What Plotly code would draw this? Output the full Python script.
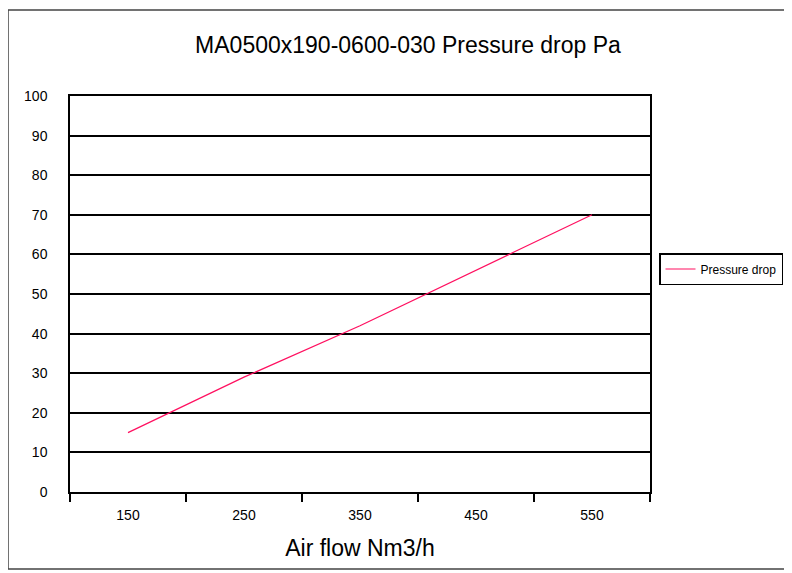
import plotly.graph_objects as go

air_flow = ["150", "250", "350", "450", "550"]
pressure_drop = [15, 29, 42, 56, 70]
y_ticks = [0, 10, 20, 30, 40, 50, 60, 70, 80, 90, 100]

# page body has an 8px margin; target screen coordinates are shifted by OFF
OFF = 8
W, H = 792 - OFF, 573 - OFF
L, R, T, B = 70 - OFF, 142, 96 - OFF, 81
pw, ph = W - L - R, H - T - B


def px(xs):
    return (xs - OFF - L) / pw


def py(ys):
    return (H - B - (ys - OFF)) / ph


fig = go.Figure()
fig.add_trace(go.Scatter(
    x=air_flow, y=pressure_drop, mode="lines", name="Pressure drop",
    line=dict(color="#FF1060", width=1.2),
))

fig.update_layout(
    width=W, height=H,
    margin=dict(l=L, r=R, t=T, b=B, autoexpand=False),
    paper_bgcolor="white", plot_bgcolor="white",
    font=dict(family="Liberation Sans, Arial, sans-serif", color="black"),
    title=dict(text="MA0500x190-0600-030 Pressure drop Pa", x=(408 - OFF) / W, xanchor="center",
               y=1 - (45 - OFF) / H, yanchor="middle", font=dict(size=23)),
    showlegend=True,
    legend=dict(x=px(659), y=py(253), xanchor="left", yanchor="top",
                bordercolor="black", borderwidth=1.5, bgcolor="white",
                font=dict(size=12), itemwidth=30),
    xaxis=dict(type="category", range=[-0.5, 4.5], showgrid=False, showline=True,
               linecolor="black", linewidth=1.5, mirror=True, ticks="outside",
               tickson="boundaries", ticklen=8, tickcolor="black", tickwidth=1.5,
               tickfont=dict(size=14), ticklabelstandoff=9, automargin=False,
               title=dict(text="Air flow Nm3/h", font=dict(size=23), standoff=18)),
    yaxis=dict(range=[0, 100], tickvals=y_ticks, showgrid=True, gridcolor="black", gridwidth=1.5,
               showline=True, linecolor="black", linewidth=1.5, mirror=True, zeroline=False,
               ticks="", tickfont=dict(size=14), ticklabelstandoff=18, fixedrange=True,
               automargin=False),
    shapes=[dict(type="rect", xref="paper", yref="paper",
                 x0=px(8), x1=px(787), y0=py(569), y1=py(10),
                 line=dict(color="#444444", width=1.5), layer="below")],
)

fig.write_html("out.html")
